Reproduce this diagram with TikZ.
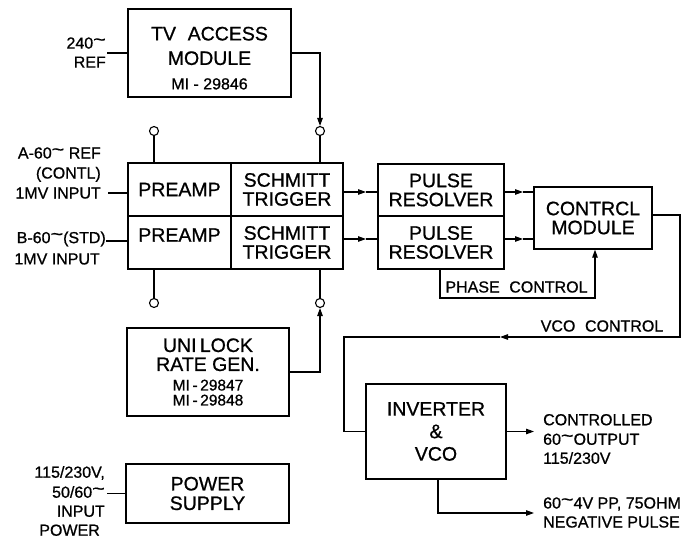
\documentclass[tikz,border=0pt]{standalone}
\usepackage{graphicx}
\usepackage{fontspec}
\setmainfont{Liberation Sans}[FakeBold=0.8]
\usetikzlibrary{arrows.meta}
\newcommand\cyc{\raisebox{0.2em}{\scalebox{1.35}[1.1]{\textasciitilde}}}
\newcommand\bigf{\fontsize{19.5}{19}\selectfont}
\newcommand\smf{\fontsize{16}{19}\selectfont}
\newcommand\tinyf{\fontsize{15.5}{15}\selectfont}
\begin{document}
\begin{tikzpicture}[x=1pt,y=-1pt,
  box/.style={draw, line width=1.3pt, inner sep=0pt, align=center, font=\bigf},
  lab/.style={inner sep=0pt, font=\smf},
  wire/.style={line width=1.1pt},
  arr/.style={wire, -{Triangle[length=8pt,width=5.5pt]}},
  term/.style={circle, draw, line width=1.1pt, minimum size=9pt, inner sep=0pt}]
\useasboundingbox (0,0) rectangle (693,540);

% boxes
\node[box, minimum width=163pt, minimum height=88pt] (tv) at (209.5,53)
  {\rule{0pt}{24pt}TV\hspace{0.6em}ACCESS\\[5.5pt]MODULE\\[5.5pt]{\smf MI - 29846}};
\node[box, minimum width=103pt, minimum height=53pt] (pa1) at (179.5,189.5) {PREAMP};
\node[box, minimum width=112pt, minimum height=53pt] (st1) at (287,189.5) {SCHMITT\\TRIGGER};
\node[box, minimum width=103pt, minimum height=53pt] (pa2) at (179.5,242.5) {\raisebox{15pt}{PREAMP}};
\node[box, minimum width=112pt, minimum height=53pt] (st2) at (287,242.5) {SCHMITT\\TRIGGER};
\node[box, minimum width=126pt, minimum height=52pt] (pr1) at (441,190) {PULSE\\RESOLVER};
\node[box, minimum width=126pt, minimum height=53pt] (pr2) at (441,242.5) {PULSE\\RESOLVER};
\node[box, minimum width=118pt, minimum height=62pt] (cm) at (593,218) {CONTRCL\\MODULE};
\node[box, minimum width=162pt, minimum height=88pt] (ul) at (208,372)
  {UNI\,LOCK\\RATE GEN.\\[0.5pt]{\tinyf MI\,-\,29847}\\[-4pt]{\tinyf MI\,-\,29848}};
\node[box, minimum width=163pt, minimum height=59pt] (ps) at (207.5,493.5) {POWER\\[0.5pt]SUPPLY};
\node[box, minimum width=140pt, minimum height=95pt] (inv) at (436,431.5) {INVERTER\\[3.5pt]\&\\[3.5pt]VCO};

% terminals
\node[term] (t1) at (154,131) {};
\node[term] (t2) at (320,131) {};
\node[term] (t3) at (154,303) {};
\node[term] (t4) at (320,303) {};

% coordinates
\coordinate (i240) at (107,53);
\coordinate (iA) at (108,193);
\coordinate (iB) at (106,241);
\coordinate (iP) at (107,493.5);
\coordinate (m1) at (366,192);
\coordinate (m2) at (366,239);
\coordinate (m3) at (523,192);
\coordinate (m4) at (523,239);
\coordinate (ph1) at (440,298);
\coordinate (ph2) at (595,298);
\coordinate (v1) at (680,215);
\coordinate (v2) at (680,337);
\coordinate (vm) at (500,337);
\coordinate (v3) at (344,337);
\coordinate (o1) at (534,431.5);
\coordinate (o2) at (438,513);
\coordinate (o3) at (534,513);

% connectors
\draw[wire] (i240) -- (tv.west);
\draw[arr] (tv.east) -| (t2.north);
\draw[wire] (t1.south) -- (t1.south |- pa1.north);
\draw[wire] (t2.south) -- (t2.south |- st1.north);
\draw[wire] (t3.north) -- (t3.north |- pa2.south);
\draw[wire] (t4.north) -- (t4.north |- st2.south);
\draw[arr] (ul.east) -| (t4.south);
\draw[wire] (iA) -- (pa1.west |- iA);
\draw[wire] (iB) -- (pa2.west |- iB);
\draw[arr] (st1.east |- m1) -- (m1);
\draw[wire] (m1) -- (pr1.west |- m1);
\draw[arr] (st2.east |- m2) -- (m2);
\draw[wire] (m2) -- (pr2.west |- m2);
\draw[arr] (pr1.east |- m3) -- (m3);
\draw[wire] (m3) -- (cm.west |- m3);
\draw[arr] (pr2.east |- m4) -- (m4);
\draw[wire] (m4) -- (cm.west |- m4);
\draw[arr] (ph1 |- pr2.south) -- (ph1) -- (ph2) -- (ph2 |- cm.south);
\draw[arr] (cm.east |- v1) -- (v1) -- (v2) -- (vm);
\draw[wire] (vm) -- (v3) -- (v3 |- inv.west) -- (inv.west);
\draw[arr] (inv.east) -- (o1);
\draw[arr] (o2 |- inv.south) -- (o2) -- (o3);
\draw[wire] (iP) -- (ps.west);

% labels
\node[lab, align=right, anchor=east] (l240) at (106,52.5) {240\cyc\\REF};
\node[lab, align=right, anchor=east] (lA) at (101,173) {A-60\cyc\ REF\\[1pt](CONTL)\\[1pt]1MV INPUT};
\node[lab, anchor=east] (lB) at (106,239) {B-60\cyc(STD)};
\node[lab, anchor=east] (lB2) at (100,259) {1MV INPUT};
\node[lab, align=right, anchor=east] (lP) at (105,501) {115/230V,\\[1pt]50/60\cyc\\INPUT\hspace*{5pt}\\POWER\hspace*{5pt}};
\node[lab, align=left, anchor=west] (lOut) at (543,439) {CONTROLLED\\[0.5pt]60\cyc OUTPUT\\115/230V};
\node[lab, align=left, anchor=west] (lNeg) at (543,512.5) {60\cyc 4V PP, 75OHM\\NEGATIVE PULSE};
\node[lab] (lPh) at (516.5,287) {PHASE\hspace{0.6em}CONTROL};
\node[lab] (lVco) at (602,326) {VCO\hspace{0.6em}CONTROL};
\end{tikzpicture}
\end{document}
